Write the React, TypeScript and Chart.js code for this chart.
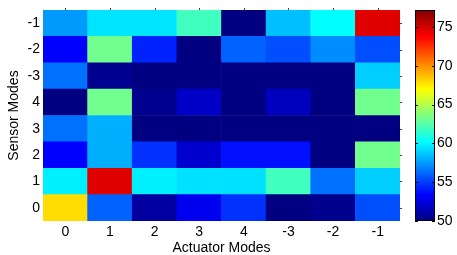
import React, { useEffect, useRef } from "react";
import { Chart, registerables } from "chart.js";

Chart.register(...registerables);

// Column categories (left to right)
const actuatorLabels = ["0", "1", "2", "3", "4", "-3", "-2", "-1"];
// Row categories (bottom to top)
const sensorLabels = ["0", "1", "2", "3", "4", "-3", "-2", "-1"];

// Cell values, one array per sensor mode (row), ordered by actuator mode
const rowS0 = [67.9, 56.0, 50.9, 53.0, 54.7, 50.0, 50.4, 55.5];
const rowS1 = [59.8, 74.6, 59.8, 59.4, 59.4, 61.9, 56.4, 58.9];
const rowS2 = [53.4, 58.1, 54.7, 52.1, 53.8, 53.8, 50.0, 63.2];
const rowS3 = [56.4, 58.1, 50.0, 50.0, 50.0, 50.0, 50.0, 50.0];
const rowS4 = [50.0, 63.2, 50.4, 51.9, 50.0, 51.7, 50.0, 63.2];
const rowSm3 = [56.4, 50.4, 50.0, 50.0, 50.0, 50.0, 50.0, 58.9];
const rowSm2 = [53.4, 63.2, 54.3, 50.0, 56.0, 55.5, 57.1, 55.5];
const rowSm1 = [57.5, 59.5, 59.5, 61.9, 50.0, 58.5, 60.2, 74.6];

const colorbarTicks = [50, 55, 60, 65, 70, 75];
const colorMin = 50;
const colorMax = 77.2;

const rows = [rowS0, rowS1, rowS2, rowS3, rowS4, rowSm3, rowSm2, rowSm1];

const FONT = "'Liberation Sans', Arial, Helvetica, sans-serif";

function jet(t: number): string {
  const tt = Math.max(0, Math.min(1, t));
  const c = (x: number) => Math.round(255 * Math.max(0, Math.min(1, x)));
  return `rgb(${c(1.5 - Math.abs(4 * tt - 3))},${c(1.5 - Math.abs(4 * tt - 2))},${c(
    1.5 - Math.abs(4 * tt - 1)
  )})`;
}

const valueColor = (v: number) => jet((v - colorMin) / (colorMax - colorMin));

const zeroPad = (s: any) => {
  s.paddingTop = 0;
  s.paddingBottom = 0;
  s.paddingLeft = 0;
  s.paddingRight = 0;
};

const decorPlugin = {
  id: "decor",
  afterDraw(chart: any) {
    const ctx = chart.ctx as CanvasRenderingContext2D;
    const area = chart.chartArea;
    const xs = chart.scales.x;
    const ys = chart.scales.y;
    const cs = chart.scales.y2;
    ctx.save();
    // small box ticks on right and top edges of the heatmap
    ctx.strokeStyle = "#444";
    ctx.lineWidth = 1;
    ys.ticks.forEach((t: any) => {
      const y = Math.round(ys.getPixelForValue(t.value)) + 0.5;
      ctx.beginPath();
      ctx.moveTo(area.right, y);
      ctx.lineTo(area.right + 2, y);
      ctx.stroke();
    });
    actuatorLabels.forEach((_, i) => {
      const x = Math.round(xs.getPixelForValue(i)) + 0.5;
      ctx.beginPath();
      ctx.moveTo(x, area.top - 2);
      ctx.lineTo(x, area.top);
      ctx.stroke();
    });

    // colorbar
    const x0 = cs.left + 15;
    const w = 20;
    const yTop = cs.getPixelForValue(colorMax);
    const yBot = cs.getPixelForValue(colorMin);
    const grad = ctx.createLinearGradient(0, yBot, 0, yTop);
    const stops = [0, 0.125, 0.375, 0.625, 0.875, 1];
    stops.forEach((s) => grad.addColorStop(s, jet(s)));
    ctx.fillStyle = grad;
    ctx.fillRect(x0, yTop, w, yBot - yTop);
    ctx.strokeStyle = "#000";
    ctx.lineWidth = 1;
    ctx.strokeRect(x0 + 0.5, yTop + 0.5, w - 1, yBot - yTop - 1);
    colorbarTicks.forEach((v) => {
      const y = Math.round(cs.getPixelForValue(v)) + 0.5;
      ctx.beginPath();
      ctx.moveTo(x0, y);
      ctx.lineTo(x0 + 3, y);
      ctx.moveTo(x0 + w - 3, y);
      ctx.lineTo(x0 + w, y);
      ctx.stroke();
    });
    ctx.restore();
  },
};

export default function App() {
  const ref = useRef<HTMLCanvasElement | null>(null);

  useEffect(() => {
    if (!ref.current) return;
    const datasets = rows.map((r, i) => ({
      label: sensorLabels[i],
      data: r.map(() => 1),
      backgroundColor: r.map(valueColor),
      borderWidth: 0,
      barPercentage: 1,
      categoryPercentage: 1,
      stack: "heat",
      xAxisID: "x",
      yAxisID: "y",
    }));

    const tickFont = { family: FONT, size: 14 };
    const chart = new Chart(ref.current, {
      type: "bar",
      data: { labels: actuatorLabels, datasets },
      options: {
        animation: false,
        responsive: false,
        layout: { padding: { top: 10, left: 0, right: 0, bottom: 0 } },
        plugins: { legend: { display: false }, tooltip: { enabled: false } },
        scales: {
          x: {
            stacked: true,
            grid: { display: false, drawTicks: false },
            border: { display: false },
            ticks: { font: tickFont, color: "#000", padding: 3 },
            title: {
              display: true,
              text: "Actuator Modes",
              font: { family: FONT, size: 14, lineHeight: 1 },
              color: "#000",
              padding: { top: 0, bottom: 0 },
            },
            afterFit: (s: any) => {
              s.height = 34;
              zeroPad(s);
            },
          },
          y: {
            stacked: true,
            min: 0,
            max: sensorLabels.length,
            grid: { display: false, drawTicks: false },
            border: { display: false },
            afterBuildTicks: (s: any) => {
              s.ticks = sensorLabels.map((_, i) => ({ value: i + 0.5 }));
            },
            ticks: {
              font: tickFont,
              color: "#000",
              padding: 3,
              autoSkip: false,
              callback: (v: any) => sensorLabels[Math.round(Number(v) - 0.5)],
            },
            title: {
              display: true,
              text: "Sensor Modes",
              font: { family: FONT, size: 14, lineHeight: 1 },
              color: "#000",
              padding: { top: 7, bottom: 0 },
            },
            afterFit: (s: any) => {
              s.width = 43;
              zeroPad(s);
            },
          },
          y2: {
            position: "right",
            min: colorMin,
            max: colorMax,
            grid: { display: false, drawTicks: false },
            border: { display: false },
            afterBuildTicks: (s: any) => {
              s.ticks = colorbarTicks.map((v) => ({ value: v }));
            },
            ticks: { font: tickFont, color: "#000", padding: 37, autoSkip: false },
            afterFit: (s: any) => {
              s.width = 57;
              zeroPad(s);
            },
          },
        },
      },
      plugins: [decorPlugin],
    });
    return () => chart.destroy();
  }, []);

  return (
    <div style={{ position: "fixed", left: 0, top: 0, width: 457, height: 255, background: "#fff" }}>
      <canvas ref={ref} width={457} height={255} style={{ display: "block" }} />
    </div>
  );
}
